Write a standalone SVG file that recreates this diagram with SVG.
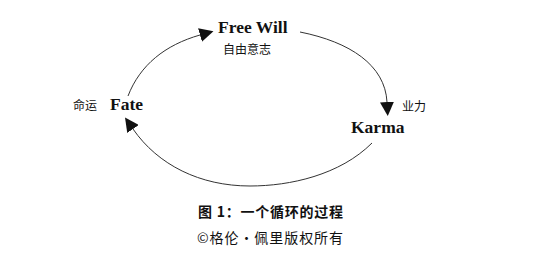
<svg xmlns="http://www.w3.org/2000/svg" width="554" height="255" viewBox="0 0 554 255">
<style>
.en{font-family:"Liberation Serif","Times New Roman",serif;font-weight:bold;font-size:17.5px;fill:#111;}
.zh{font-family:"Noto Sans CJK SC","Noto Sans",sans-serif;font-size:12px;fill:#111;}
.cap{font-family:"Noto Sans CJK SC","Noto Sans",sans-serif;font-size:14px;fill:#111;}
.arc{fill:none;stroke:#333;stroke-width:1;}
</style>
<defs>
<marker id="ah" viewBox="0 0 14 14" refX="0" refY="7" markerWidth="14" markerHeight="14" markerUnits="userSpaceOnUse" orient="auto">
<path d="M0,0 L14,7 L0,14 z" fill="#111"/>
</marker>
</defs>
<rect width="554" height="255" fill="#fff"/>
<g id="connectors">
<path class="arc" d="M128,96 C140,65 165,45 200,35" marker-end="url(#ah)"/>
<path class="arc" d="M300,32 C350,42 385,65 387,102" marker-end="url(#ah)"/>
<path class="arc" d="M372,143 C340,175 290,186 250,186 C200,186 158,165 133,129" marker-end="url(#ah)"/>
</g>
<g id="freewill">
<text class="en" x="218" y="33">Free Will</text>
<text class="zh" x="223" y="54">自由意志</text>
</g>
<g id="karma">
<text class="en" x="351" y="133">Karma</text>
<text class="zh" x="402" y="111">业力</text>
</g>
<g id="fate">
<text class="en" x="110" y="110">Fate</text>
<text class="zh" x="73" y="110">命运</text>
</g>
<g id="caption">
<text class="cap" x="198" y="217" font-weight="bold" textLength="145" lengthAdjust="spacing">图 1：一个循环的过程</text>
<text class="cap" x="197" y="243" textLength="146" lengthAdjust="spacing">©格伦・佩里版权所有</text>
</g>
</svg>
